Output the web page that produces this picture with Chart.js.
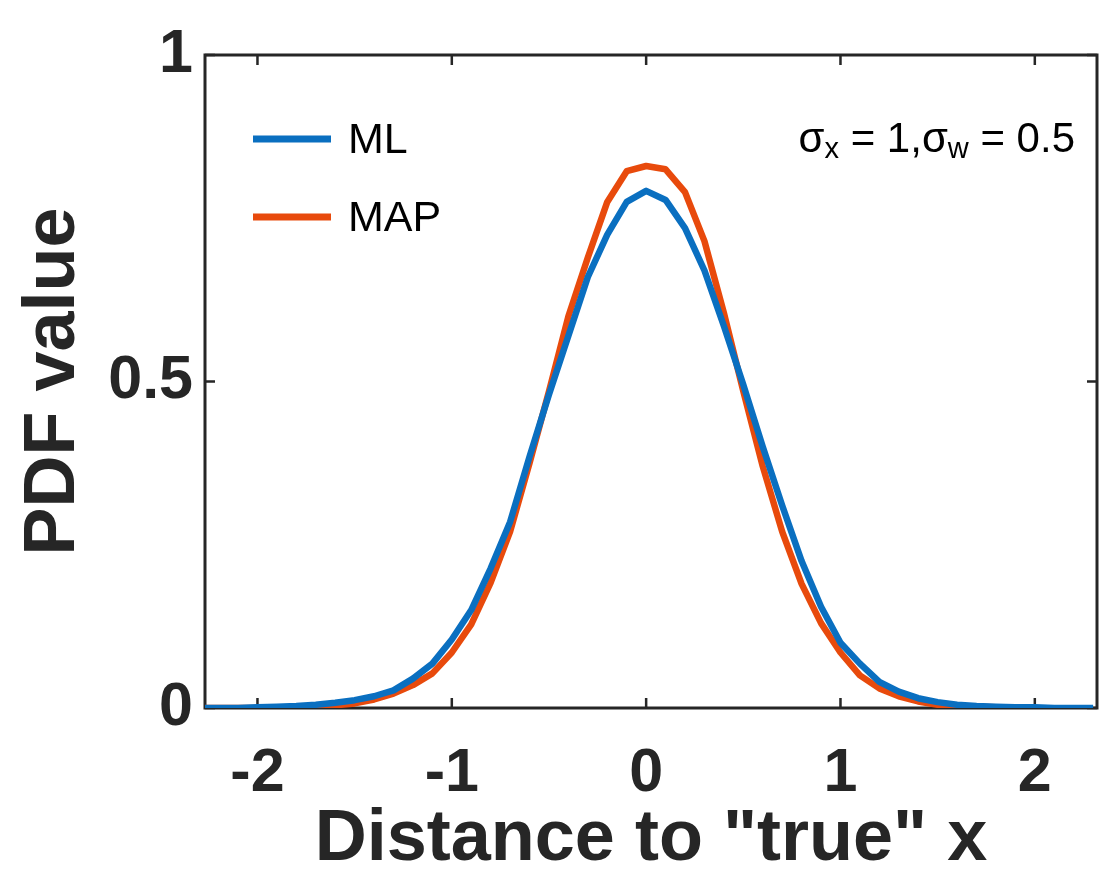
<!DOCTYPE html>
<html>
<head>
<meta charset="utf-8">
<script src="https://cdn.jsdelivr.net/npm/chart.js@4/dist/chart.umd.min.js"></script>
<style>
  body { margin: 0; background: #fff; }
  #wrap { width: 1118px; height: 882px; }
</style>
</head>
<body>
<div id="wrap"><canvas id="pdfChart" width="1118" height="882"></canvas></div>
<script>
// distance to "true" x (sample points)
const xValues = [-2.3, -2.2, -2.1, -2.0, -1.9, -1.8, -1.7, -1.6, -1.5, -1.4, -1.3, -1.2,
  -1.1, -1.0, -0.9, -0.8, -0.7, -0.6, -0.5, -0.4, -0.3, -0.2, -0.1, 0.0,
  0.1, 0.2, 0.3, 0.4, 0.5, 0.6, 0.7, 0.8, 0.9, 1.0, 1.1, 1.2,
  1.3, 1.4, 1.5, 1.6, 1.7, 1.8, 1.9, 2.0, 2.1, 2.2, 2.3];

const mlValues = [0, 0, 0, 0.001, 0.002, 0.003, 0.005, 0.008, 0.012, 0.018, 0.027, 0.045,
  0.068, 0.105, 0.150, 0.214, 0.285, 0.385, 0.480, 0.570, 0.660, 0.725, 0.775, 0.792,
  0.778, 0.735, 0.670, 0.585, 0.495, 0.400, 0.310, 0.225, 0.155, 0.100, 0.068, 0.040,
  0.025, 0.015, 0.009, 0.005, 0.003, 0.002, 0.001, 0.001, 0, 0, 0];

// MAP curve stops at x = 2
const mapValues = [0, 0, 0, 0, 0.001, 0.001, 0.002, 0.004, 0.007, 0.013, 0.022, 0.035,
  0.053, 0.085, 0.128, 0.192, 0.270, 0.375, 0.485, 0.600, 0.690, 0.775, 0.822, 0.830,
  0.825, 0.790, 0.715, 0.605, 0.485, 0.370, 0.270, 0.190, 0.130, 0.085, 0.050, 0.030,
  0.018, 0.010, 0.005, 0.003, 0.002, 0.001, 0, 0];

const xTicks = [-2, -1, 0, 1, 2];
const yTicks = [0, 0.5, 1];
const seriesNames = ['ML', 'MAP'];
const annotation = [['σ', false], ['x', true], [' = 1,', false], ['σ', false], ['w', true], [' = 0.5', false]];

const blue = '#0a6fc0';
const orange = '#e84a0c';
const axisColor = '#262626';
const fontFam = '"Liberation Sans", Arial, sans-serif';

function toPoints(vals) {
  return vals.map((v, i) => ({ x: xValues[i], y: v }));
}

// box + inward tick marks, drawn under the curves
const boxPlugin = {
  id: 'box',
  beforeDatasetsDraw(chart) {
    const { ctx, chartArea: a, scales } = chart;
    ctx.save();
    ctx.strokeStyle = axisColor;
    ctx.lineWidth = 3;
    ctx.strokeRect(a.left, a.top, a.right - a.left, a.bottom - a.top);
    ctx.lineWidth = 2.5;
    ctx.beginPath();
    xTicks.forEach(v => {
      const px = scales.x.getPixelForValue(v);
      ctx.moveTo(px, a.bottom); ctx.lineTo(px, a.bottom - 10);
      ctx.moveTo(px, a.top); ctx.lineTo(px, a.top + 10);
    });
    yTicks.forEach(v => {
      const py = scales.y.getPixelForValue(v);
      ctx.moveTo(a.left, py); ctx.lineTo(a.left + 10, py);
      ctx.moveTo(a.right, py); ctx.lineTo(a.right - 10, py);
    });
    ctx.stroke();
    ctx.restore();
  }
};

// legend in the upper left and sigma note in the upper right
const notePlugin = {
  id: 'notes',
  afterDatasetsDraw(chart) {
    const { ctx, chartArea: a } = chart;
    ctx.save();
    const cols = [blue, orange];
    seriesNames.forEach((name, i) => {
      const y = a.top + 84 + i * 78;
      ctx.strokeStyle = cols[i];
      ctx.lineWidth = 7;
      ctx.beginPath();
      ctx.moveTo(a.left + 48, y);
      ctx.lineTo(a.left + 126, y);
      ctx.stroke();
      ctx.fillStyle = '#000';
      ctx.font = '43px ' + fontFam;
      ctx.textBaseline = 'middle';
      ctx.fillText(name, a.left + 143, y + 2);
    });

    // annotation with subscripts, right aligned
    const big = '42px ' + fontFam;
    const small = '29px ' + fontFam;
    let w = 0;
    annotation.forEach(([t, sub]) => { ctx.font = sub ? small : big; w += ctx.measureText(t).width; });
    let x = a.right - 22 - w;
    const base = a.top + 97;
    ctx.textBaseline = 'alphabetic';
    annotation.forEach(([t, sub]) => {
      ctx.font = sub ? small : big;
      ctx.fillText(t, x, sub ? base + 6 : base);
      x += ctx.measureText(t).width;
    });
    ctx.restore();
  }
};

new Chart(document.getElementById('pdfChart'), {
  type: 'line',
  data: {
    datasets: [
      { label: seriesNames[0], data: toPoints(mlValues), borderColor: blue, borderWidth: 6.5,
        pointRadius: 0, tension: 0, fill: false, borderJoinStyle: 'round' },
      { label: seriesNames[1], data: toPoints(mapValues), borderColor: orange, borderWidth: 6.5,
        pointRadius: 0, tension: 0, fill: false, borderJoinStyle: 'round' }
    ]
  },
  options: {
    responsive: false,
    animation: false,
    devicePixelRatio: 1,
    layout: { padding: { top: 55, right: 21, left: 0, bottom: 0 } },
    plugins: { legend: { display: false }, tooltip: { enabled: false } },
    scales: {
      x: {
        type: 'linear',
        min: -2.27,
        max: 2.32,
        grid: { display: false, drawTicks: false },
        border: { display: false },
        afterBuildTicks: s => { s.ticks = xTicks.map(v => ({ value: v })); },
        afterFit: s => { s.height = 174; },
        ticks: {
          padding: 30,
          color: axisColor,
          font: { family: fontFam, size: 61, weight: 'bold' },
          callback: v => String(v)
        },
        title: {
          display: true,
          text: 'Distance to "true" x',
          color: axisColor,
          font: { family: fontFam, size: 72, weight: 'bold', lineHeight: 1 },
          padding: { bottom: 6 }
        }
      },
      y: {
        type: 'linear',
        min: 0,
        max: 1,
        grid: { display: false, drawTicks: false },
        border: { display: false },
        afterBuildTicks: s => { s.ticks = yTicks.map(v => ({ value: v })); },
        afterFit: s => { s.width = 205; },
        ticks: {
          padding: 12,
          color: axisColor,
          font: { family: fontFam, size: 61, weight: 'bold' },
          callback: v => String(v)
        },
        title: {
          display: true,
          text: 'PDF value',
          color: axisColor,
          font: { family: fontFam, size: 72, weight: 'bold', lineHeight: 1 },
          padding: { top: 18 }
        }
      }
    }
  },
  plugins: [boxPlugin, notePlugin]
});
</script>
</body>
</html>
